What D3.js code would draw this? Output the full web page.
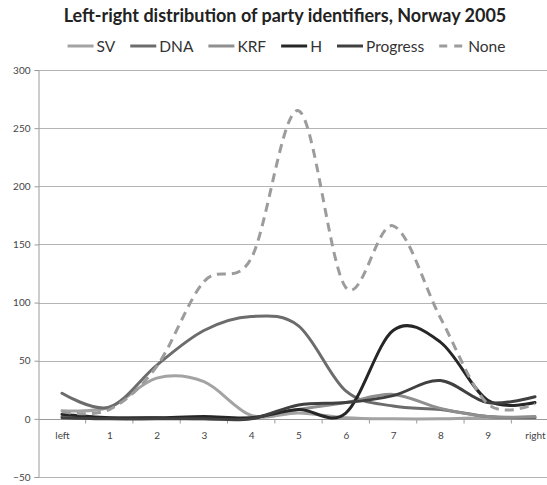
<!DOCTYPE html>
<html>
<head>
<meta charset="utf-8">
<script src="https://cdn.jsdelivr.net/npm/d3@7"></script>
<style>
  html, body { margin: 0; padding: 0; background: #fff; }
  svg { display: block; }
</style>
</head>
<body>
<svg id="chart" width="547" height="485"></svg>
<script>
// Left-right self-placement (0 = left ... 10 = right) by party identification
const categories = ["left", "1", "2", "3", "4", "5", "6", "7", "8", "9", "right"];
const yTicks = [-50, 0, 50, 100, 150, 200, 250, 300];

const sv       = [7, 10, 35, 32, 3, 5, 1, 0, 0, 1, 1];
const dna      = [22, 10, 46, 76, 88, 80, 24, 11, 8, 2, 1];
const krf      = [2, 1, 1, 0, 1, 8, 14, 21, 9, 2, 2];
const h        = [4, 1, 1, 2, 1, 8, 5, 76, 66, 16, 14];
const progress = [1, 0, 0, 0, 0, 12, 14, 20, 33, 14, 19];
const none     = [6, 8, 45, 118, 138, 265, 113, 166, 87, 13, 13];

const series = [
  { name: "SV",       values: sv,       color: "#a3a3a3", dash: null },
  { name: "DNA",      values: dna,      color: "#6c6c6c", dash: null },
  { name: "KRF",      values: krf,      color: "#8f8f8f", dash: null },
  { name: "H",        values: h,        color: "#262626", dash: null },
  { name: "Progress", values: progress, color: "#404040", dash: null },
  { name: "None",     values: none,     color: "#9c9c9c", dash: "9,6" }
];

const svg = d3.select("#chart");
const font = "Lato, 'Open Sans', sans-serif";

const x = d3.scalePoint().domain(categories).range([62, 535]);
const step = x.step();
const y = d3.scaleLinear().domain([-50, 300]).range([477, 70]);
const xLeft = 38.5, xRight = 560;

// Title
svg.append("text")
  .attr("x", 285).attr("y", 22)
  .attr("text-anchor", "middle")
  .attr("font-family", font)
  .attr("font-weight", "bold")
  .attr("font-size", 18)
  .attr("fill", "#222")
  .text("Left-right distribution of party identifiers, Norway 2005");

// Horizontal gridlines
svg.append("g")
  .selectAll("line")
  .data(yTicks.filter(d => d !== 0))
  .join("line")
  .attr("x1", xLeft).attr("x2", xRight)
  .attr("y1", d => Math.round(y(d)) + 0.5)
  .attr("y2", d => Math.round(y(d)) + 0.5)
  .attr("stroke", "#b4b4b4")
  .attr("stroke-width", 1);

// Y axis
const yAxis = svg.append("g")
  .attr("transform", `translate(${xLeft},0)`)
  .call(d3.axisLeft(y).tickValues(yTicks).tickSize(4).tickPadding(4));
yAxis.select(".domain").attr("stroke", "#9a9a9a");
yAxis.selectAll(".tick line").attr("stroke", "#9a9a9a");
yAxis.selectAll(".tick text")
  .attr("font-family", font)
  .attr("font-size", 10)
  .attr("fill", "#444");

// Category axis along zero, tick marks between categories
const zeroY = Math.round(y(0)) + 0.5;
const xAxis = svg.append("g")
  .attr("transform", `translate(0,${zeroY})`)
  .call(d3.axisBottom(x).tickSize(0).tickPadding(12));
xAxis.select(".domain").remove();
xAxis.selectAll(".tick text")
  .attr("font-family", font)
  .attr("font-size", 10)
  .attr("fill", "#444");
svg.append("line")
  .attr("x1", xLeft).attr("x2", xRight)
  .attr("y1", zeroY).attr("y2", zeroY)
  .attr("stroke", "#9a9a9a");
svg.append("g")
  .selectAll("line")
  .data(categories.slice(0, -1))
  .join("line")
  .attr("x1", d => x(d) + step / 2).attr("x2", d => x(d) + step / 2)
  .attr("y1", zeroY).attr("y2", zeroY + 4)
  .attr("stroke", "#9a9a9a");

// Smoothed series lines
const line = d3.line()
  .x((d, i) => x(categories[i]))
  .y(d => y(d))
  .curve(d3.curveCardinal.tension(0));

svg.append("g")
  .selectAll("path")
  .data(series)
  .join("path")
  .attr("d", d => line(d.values))
  .attr("fill", "none")
  .attr("stroke", d => d.color)
  .attr("stroke-width", 3)
  .attr("stroke-linecap", d => d.dash ? "butt" : "round")
  .attr("stroke-linejoin", "round")
  .attr("stroke-dasharray", d => d.dash);

// Legend
const legend = svg.append("g");
const legendY = 46;
let cursor = 0;
series.forEach(s => {
  const g = legend.append("g").attr("transform", `translate(${cursor},0)`);
  g.append("line")
    .attr("x1", 0).attr("x2", 26)
    .attr("y1", legendY).attr("y2", legendY)
    .attr("stroke", s.color)
    .attr("stroke-width", 3)
    .attr("stroke-dasharray", s.dash ? "8,7" : null);
  const t = g.append("text")
    .attr("x", 29).attr("y", legendY + 5.5)
    .attr("font-family", font)
    .attr("font-size", 15.5)
    .attr("fill", "#333")
    .text(s.name);
  cursor += 29 + t.node().getComputedTextLength() + 15;
});
cursor -= 15;
legend.attr("transform", `translate(${286.5 - cursor / 2},0)`);
</script>
</body>
</html>
